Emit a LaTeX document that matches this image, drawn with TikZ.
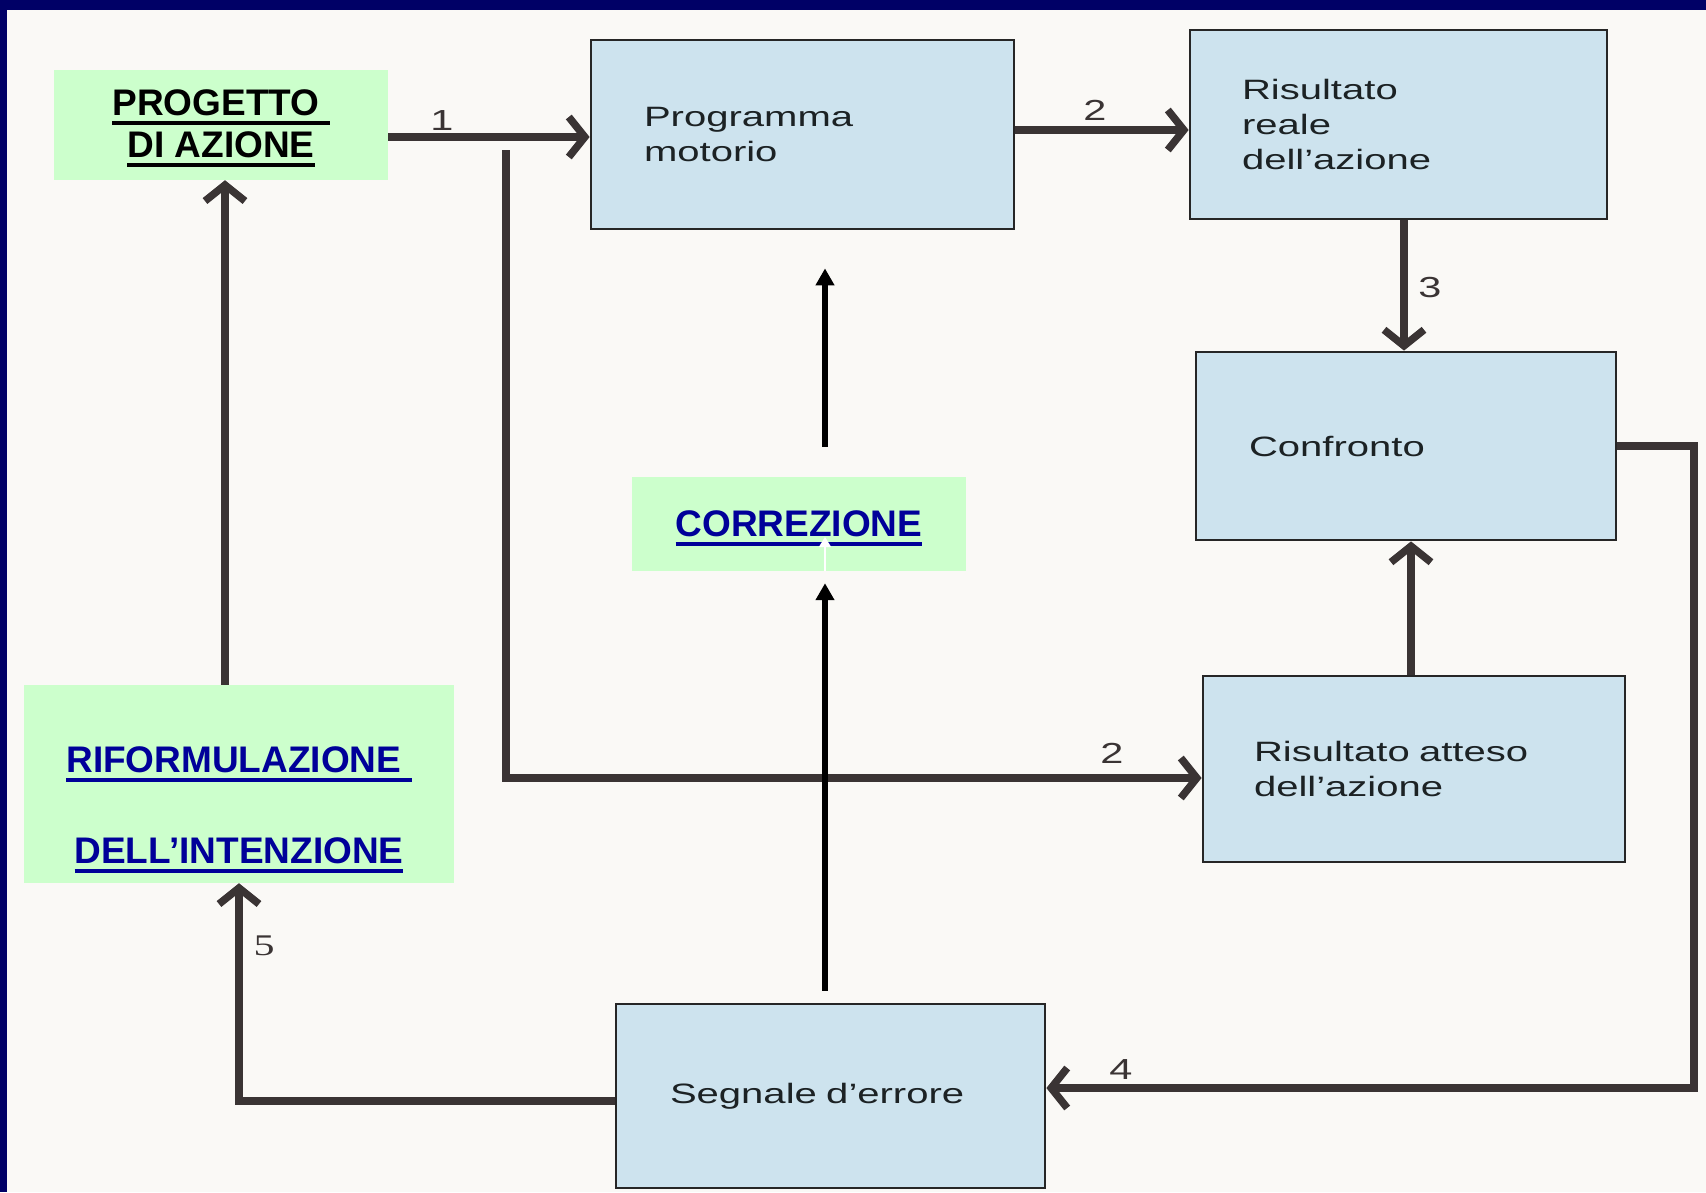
\documentclass[tikz,border=0pt]{standalone}
\usepackage{fontspec}
\setmainfont{Liberation Sans}
\newfontfamily\wideface[FakeStretch=1.43]{Liberation Sans}
\newfontfamily\wideserif[FakeStretch=1.4]{Liberation Serif}
\usetikzlibrary{arrows.meta,calc}
\definecolor{navy}{RGB}{0,0,102}
\definecolor{paper}{RGB}{250,249,246}
\definecolor{boxblue}{RGB}{205,227,238}
\definecolor{greenbg}{RGB}{204,255,204}
\definecolor{linkblue}{RGB}{0,0,153}
\definecolor{lineg}{RGB}{58,52,52}
\definecolor{inkc}{RGB}{28,34,36}
\newcommand\myul[1]{\setbox0\hbox{#1}\rlap{\rule[-9pt]{\wd0}{3.5pt}}\box0}
\begin{document}
\begin{tikzpicture}[x=1pt,y=-1pt,
  bluebox/.style={draw=black!85, line width=2.8pt, fill=boxblue, align=left,
    inner ysep=0pt, font=\wideface\fontsize{28}{35}\selectfont, text=inkc},
  greenbox/.style={fill=greenbg, inner sep=0pt},
  greentext/.style={align=center, inner sep=0pt, font=\bfseries\fontsize{37}{42}\selectfont},
  conn/.style={draw=lineg, line width=7.5pt, -{Straight Barb[length=16pt,width=40pt]}},
  blk/.style={draw=black, line width=6pt, -{Triangle[length=17pt,width=18pt]}},
  num/.style={font=\wideface\fontsize{29}{30}\selectfont, text=lineg, inner sep=0pt}]

% background and frame
\fill[paper] (0,0) rectangle (1706,1192);
\fill[navy] (0,0) rectangle (1706,10);
\fill[navy] (0,0) rectangle (7,1192);
\useasboundingbox (0,0) rectangle (1706,1192);

% green boxes
\node[greenbox, minimum width=334pt, minimum height=110pt] (prog) at (221,125) {};
\node[greenbox, minimum width=430pt, minimum height=198pt] (rif) at (239,784) {};
\node[greenbox, minimum width=334pt, minimum height=94pt] (corr) at (799,524) {};

\node[greentext, text=black] (progt) at (221,128.5) {\myul{PROGETTO\ }\\\myul{DI AZIONE}};
\node[greentext, text=linkblue, font=\bfseries\fontsize{37}{91}\selectfont] (rift) at (239,810)
  {\myul{RIFORMULAZIONE\ }\\\myul{DELL’INTENZIONE}};
\node[greentext, text=linkblue] (corrt) at (799,528.5) {\myul{CORREZIONE}};

% blue boxes
\node[bluebox, inner xsep=53pt, text width=317pt, minimum height=189pt] (pm) at (802.5,134.5)
  {Programma\\motorio};
\node[bluebox, inner xsep=52pt, text width=313pt, minimum height=189pt] (rr) at (1398.5,124.5)
  {Risultato\\reale\\dell’azione};
\node[bluebox, inner xsep=53pt, text width=314pt, minimum height=188pt] (conf) at (1406,446)
  {Confronto};
\node[bluebox, inner xsep=51pt, text width=320pt, minimum height=186pt] (ra) at (1414,769)
  {Risultato atteso\\dell’azione};
\node[bluebox, inner xsep=54pt, text width=321pt, minimum height=184pt] (se) at (830.5,1096)
  {Segnale d’errore};

% gray connectors
\draw[conn] (prog.east |- 0,137) -- (pm.west |- 0,137);
\draw[conn] (pm.east |- 0,130) -- (rr.west |- 0,130);
\draw[conn] (1404,0 |- rr.south) -- (1404,0 |- conf.north);
\coordinate (br) at (506,150);
\draw[conn] (br) |- (ra.west |- 0,778);
\draw[conn] (1411,0 |- ra.north) -- (1411,0 |- conf.south);
\coordinate (c4) at (1694,1088);
\draw[conn] (conf.east) -| (c4) -- (se.east |- c4);
\draw[conn] (se.west |- 0,1101) -| (rif.south);
\draw[conn] (225,0 |- rif.north) -- (225,0 |- prog.south);

% black arrows
\draw[blk, shorten <=12pt, shorten >=12pt] (825,0 |- se.north) -- (825,0 |- corr.south);
\draw[blk, shorten <=30pt, shorten >=38pt] (825,0 |- corr.north) -- (825,0 |- pm.south);
\draw[white, line width=1.5pt, -{Triangle[length=10pt,width=12pt]}] (825,0 |- corr.south) -- (825,537);

% labels
\node[num] (l1) at (442,121) {1};
\node[num] (l2a) at (1095,110) {2};
\node[num] (l3) at (1430,288) {3};
\node[num] (l2b) at (1112,753) {2};
\node[num] (l4) at (1121,1070) {4};
\node[num, font=\wideserif\fontsize{30}{30}\selectfont] (l5) at (264,946) {5};
\end{tikzpicture}
\end{document}
